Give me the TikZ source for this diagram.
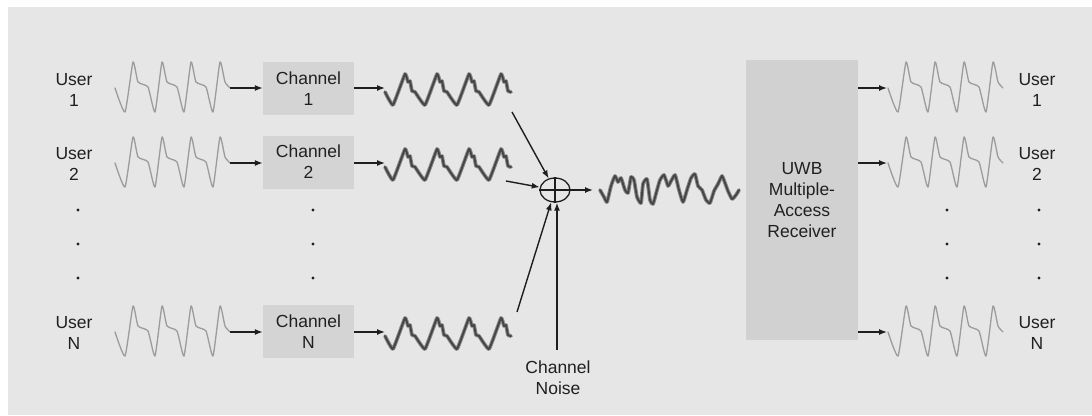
\documentclass[tikz,border=0pt]{standalone}
\usepackage{fontspec}
\setmainfont{Liberation Sans}
\usetikzlibrary{arrows.meta,shapes.geometric}
\definecolor{bgc}{HTML}{E6E6E6}
\definecolor{boxc}{HTML}{D4D4D4}
\definecolor{rxc}{HTML}{D1D1D1}
\definecolor{txt}{HTML}{202020}
\definecolor{arrc}{HTML}{1E1E1E}
\definecolor{wavein}{HTML}{9C9C9C}
\definecolor{wavedk}{HTML}{454545}
\definecolor{wavehalo}{HTML}{8A8A8A}
\newcommand\pulsetrain[2]{%
  \draw[inwave,shift={(#1,#2)}] plot[smooth,tension=0.3] coordinates {(-18,0) (-8,24) (0,-26) (5,-6) (15,-1) (22,24) (29,-26) (34,-6) (44,-1) (51,24) (58,-26) (63,-6) (73,-1) (80,24) (87,-26) (92,-6) (97,0)};}
\newcommand\chwavecoords{(-8,2) (0,15) (12,-16) (15,-8) (17,-9) (19,1) (22,2) (32,15) (44,-16) (47,-8) (49,-9) (51,1) (54,2) (64,15) (76,-16) (79,-8) (81,-9) (83,1) (86,2) (96,15) (108,-16) (111,-8) (113,-9) (115,1) (118,2)}
\newcommand\chwave[2]{%
  \draw[halo,shift={(#1,#2)}] plot[smooth,tension=0.2] coordinates {\chwavecoords};
  \draw[darkw,shift={(#1,#2)}] plot[smooth,tension=0.2] coordinates {\chwavecoords};}
\newcommand\sumcoords{(600,190) (604,197) (607,202) (611,186) (615,176) (618,182) (621,178) (625,190) (628,193) (631,177) (634,180) (637,197) (641,203) (643,184) (647,179) (650,200) (653,204) (657,190) (660,180) (664,175) (668,186) (670,183) (675,175) (679,190) (683,202) (687,190) (691,178) (695,174) (698,186) (702,190) (706,200) (710,203) (714,191) (718,184) (722,176) (725,183) (728,191) (732,199) (736,195) (739,190)}
\begin{document}
\begin{tikzpicture}[x=1pt,y=-1pt,
  lbl/.style={align=center,font=\fontsize{17.5}{21}\selectfont,text=txt,inner sep=0pt},
  chbox/.style={fill=boxc,minimum width=91pt,minimum height=53pt,inner sep=0pt,align=center,font=\fontsize{17.5}{21}\selectfont,text=txt},
  rxbox/.style={fill=rxc,minimum width=112pt,minimum height=280pt,inner sep=0pt,align=center,font=\fontsize{17.5}{21}\selectfont,text=txt},
  sumnode/.style={draw=arrc,line width=1.3pt,ellipse,minimum width=30pt,minimum height=24pt,inner sep=0pt},
  arr/.style={-{Latex[length=8pt,width=6pt]},line width=1.4pt,draw=arrc},
  inwave/.style={draw=wavein,line width=1.3pt,line join=round,line cap=round},
  halo/.style={draw=wavehalo,line width=3.8pt,line join=round,line cap=round},
  darkw/.style={draw=wavedk,line width=1.9pt,line join=round,line cap=round},
  dotn/.style={circle,fill=txt,inner sep=0pt,minimum size=3.4pt}
]
\useasboundingbox (0,0) rectangle (1092,415);
\fill[white] (0,0) rectangle (1092,415);
\fill[bgc] (8,7) rectangle (1092,415);

% left user labels
\node[lbl] (u1) at (74,90) {User\\1};
\node[lbl] (u2) at (74,164) {User\\2};
\node[lbl] (uN) at (74,333) {User\\N};
\node[dotn] (ld1) at (78,210) {};
\node[dotn] (ld2) at (78,244) {};
\node[dotn] (ld3) at (78,278) {};

% input pulses
\pulsetrain{133}{88}
\pulsetrain{133}{163}
\pulsetrain{133}{332}
\coordinate (i1) at (230,88);
\coordinate (i2) at (230,163);
\coordinate (iN) at (230,332);

% channels
\node[chbox] (ch1) at (308.5,88.5) {Channel\\1};
\node[chbox] (ch2) at (308.5,162) {Channel\\2};
\node[chbox] (chN) at (308.5,331.5) {Channel\\N};
\node[dotn] (cd1) at (313,210) {};
\node[dotn] (cd2) at (313,244) {};
\node[dotn] (cd3) at (313,278) {};
\draw[arr] (i1) -- (ch1.west |- i1);
\draw[arr] (i2) -- (ch2.west |- i2);
\draw[arr] (iN) -- (chN.west |- iN);

% channel outputs
\coordinate (c1) at (385,88);
\coordinate (c2) at (385,163);
\coordinate (cN) at (385,332);
\draw[arr] (ch1.east |- c1) -- (c1);
\draw[arr] (ch2.east |- c2) -- (c2);
\draw[arr] (chN.east |- cN) -- (cN);
\chwave{393}{90}
\chwave{393}{165}
\chwave{393}{334}

% summing junction
\node[sumnode] (sum) at (555,190) {};
\draw[arrc,line width=1.1pt] (sum.north) -- (sum.south) (sum.west) -- (sum.east);
\coordinate (w1) at (512,112);
\coordinate (w2) at (506,181);
\coordinate (wN) at (517,312);
\draw[arr] (w1) -- (sum);
\draw[arr] (w2) -- (sum);
\draw[arr] (wN) -- (sum);
\node[lbl] (noise) at (558,378) {Channel\\Noise};
\coordinate (nz) at (557,350);
\draw[arr] (nz) -- (nz |- sum.south);
\coordinate (so) at (593,190);
\draw[arr] (sum.east) -- (so);
\draw[halo] plot[smooth,tension=0.3] coordinates {\sumcoords};
\draw[darkw] plot[smooth,tension=0.3] coordinates {\sumcoords};

% receiver
\node[rxbox] (rx) at (802,200) {UWB\\Multiple-\\Access\\Receiver};
\coordinate (o1) at (887,88);
\coordinate (o2) at (887,163);
\coordinate (oN) at (887,332);
\draw[arr] (rx.east |- o1) -- (o1);
\draw[arr] (rx.east |- o2) -- (o2);
\draw[arr] (rx.east |- oN) -- (oN);
\pulsetrain{906}{88}
\pulsetrain{906}{163}
\pulsetrain{906}{332}
\node[dotn] (rd1) at (947,210) {};
\node[dotn] (rd2) at (947,244) {};
\node[dotn] (rd3) at (947,278) {};
\node[dotn] (rd4) at (1039,210) {};
\node[dotn] (rd5) at (1039,244) {};
\node[dotn] (rd6) at (1039,278) {};
\node[lbl] (v1) at (1037,90) {User\\1};
\node[lbl] (v2) at (1037,164) {User\\2};
\node[lbl] (vN) at (1037,333) {User\\N};
\end{tikzpicture}
\end{document}
